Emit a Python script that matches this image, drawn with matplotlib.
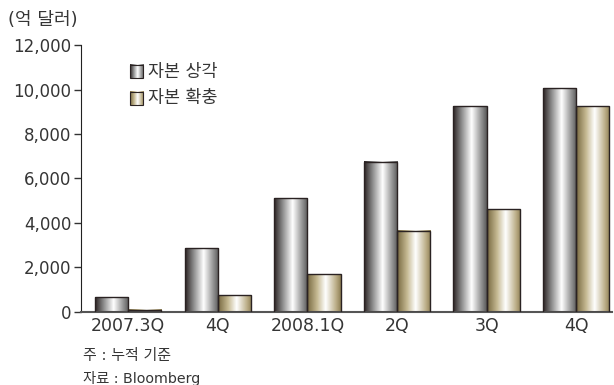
import numpy as np
import matplotlib.pyplot as plt
from matplotlib.colors import LinearSegmentedColormap
from matplotlib.patches import Rectangle

# DejaVu for digits/latin (wide like the original), Noto CJK for Hangul
plt.rcParams['font.family'] = ['DejaVu Sans', 'Noto Sans CJK KR']

quarters = ['2007.3Q', '4Q', '2008.1Q', '2Q', '3Q', '4Q']
writedowns = [650, 2850, 5100, 6750, 9250, 10050]
capital_raised = [100, 750, 1700, 3650, 4630, 9250]
series_names = ['자본 상각', '자본 확충']
yticks = [0, 2000, 4000, 6000, 8000, 10000, 12000]

# cylinder-like shading for each series
gray_cmap = LinearSegmentedColormap.from_list(
    'gray_cyl', [(0, '#2a2222'), (0.25, '#8a8a8a'), (0.55, '#ffffff'),
                 (0.8, '#a0a0a0'), (1, '#585858')])
gold_cmap = LinearSegmentedColormap.from_list(
    'gold_cyl', [(0, '#76673f'), (0.3, '#c6ba93'), (0.55, '#ffffff'),
                 (0.85, '#bdb08a'), (1, '#8f8055')])
grad = np.linspace(0, 1, 256).reshape(1, -1)

fig = plt.figure(figsize=(6.14, 3.85), dpi=100)
ax = fig.add_axes([0.132, 0.19, 0.865, 0.693])

x = np.arange(len(quarters))
w = 0.37
edge = '#2a2222'
txt = '#353535'


def shaded_bars(xpos, vals, cmap):
    bars = ax.bar(xpos, vals, w, facecolor='none', edgecolor=edge,
                  linewidth=1.0, zorder=3)
    for b in bars:
        ax.imshow(grad, cmap=cmap, aspect='auto', zorder=2,
                  extent=[b.get_x(), b.get_x() + b.get_width(), 0, b.get_height()])
    return bars


shaded_bars(x - w / 2, writedowns, gray_cmap)
shaded_bars(x + w / 2, capital_raised, gold_cmap)

ax.set_yticks(yticks)
ax.set_yticklabels([f'{v:,}' for v in yticks], fontsize=12, color=txt)
ax.set_xticks(x)
ax.set_xticklabels(quarters, fontsize=12.5, color=txt)
ax.tick_params(axis='x', length=0, pad=4)
ax.tick_params(axis='y', length=5, width=1, color='#333333', pad=2)
for s in ['top', 'right']:
    ax.spines[s].set_visible(False)
ax.spines['left'].set_color('#222222')
ax.spines['bottom'].set_color('#555555')
ax.spines['bottom'].set_linewidth(1.5)

# legend drawn by hand so the swatches keep the gradient
for i, (name, cmap) in enumerate(zip(series_names, [gray_cmap, gold_cmap])):
    y0 = 0.876 - i * 0.1
    ax.imshow(grad, cmap=cmap, aspect='auto', transform=ax.transAxes,
              extent=[0.092, 0.1165, y0, y0 + 0.049], zorder=4)
    ax.add_patch(Rectangle((0.092, y0), 0.0245, 0.049, transform=ax.transAxes,
                           facecolor='none', edgecolor=edge, linewidth=0.8, zorder=5))
    ax.text(0.126, y0 + 0.024, name, transform=ax.transAxes, fontsize=12.5,
            va='center', ha='left', color=txt)
ax.set_xlim(-0.525, 5.40)
ax.set_ylim(0, 12000)

fig.text(0.013, 0.948, '(억 달러)', fontsize=13, va='center', ha='left', color=txt)
fig.text(0.135, 0.077, '주 : 누적 기준', fontsize=10.8, va='center', ha='left', color=txt)
fig.text(0.135, 0.018, '자료 : Bloomberg', fontsize=10.3, va='center', ha='left', color=txt)

fig.savefig('out.png', dpi=100)
